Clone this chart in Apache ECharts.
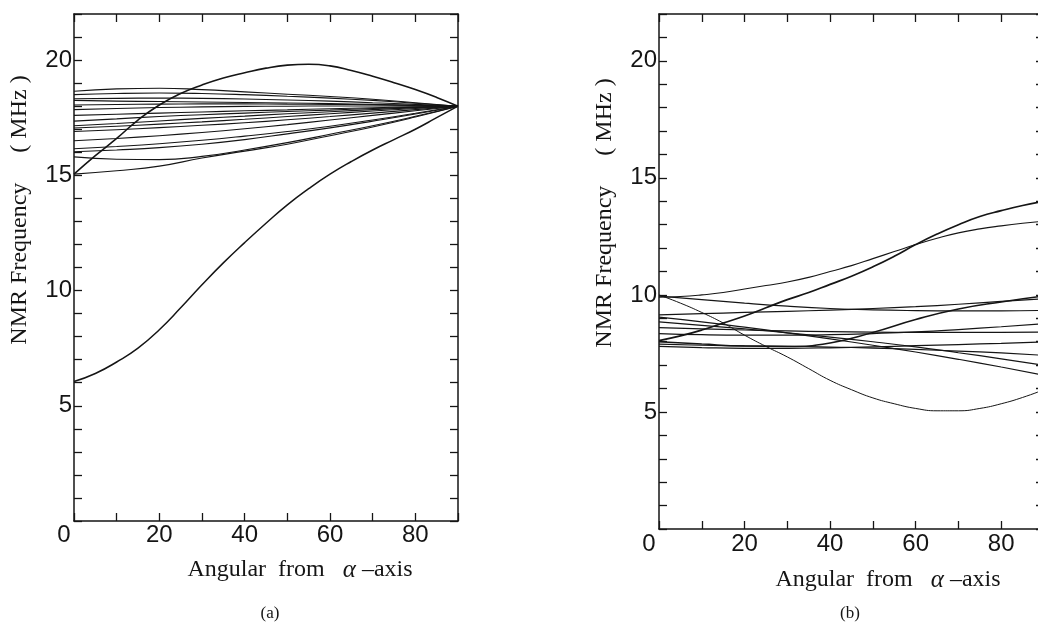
<!DOCTYPE html>
<html><head><meta charset="utf-8">
<script src="https://cdn.jsdelivr.net/npm/echarts@6/dist/echarts.min.js"></script>
<style>html,body{margin:0;padding:0;background:#fff}#c{width:1038px;height:624px}</style>
</head><body><div id="c"></div>
<script>
// x values (angle from alpha-axis, degrees)
const angles = [0, 10, 20, 30, 40, 50, 60, 70, 80, 90];
const anglesFine = [0, 5, 10, 15, 20, 25, 30, 35, 40, 45, 50, 55, 60, 65, 70, 75, 80, 85, 90];
const xTickLabels = [0, 20, 40, 60, 80];
const yTickLabels = [5, 10, 15, 20];

// ---- panel (a) ----  (aArc, aLow on anglesFine; others on angles)
const aArc = [15.05, 15.85, 16.6, 17.4, 18.05, 18.55, 18.92, 19.22, 19.45, 19.65, 19.78, 19.82, 19.75, 19.55, 19.3, 19.02, 18.72, 18.38, 18.0];
const aLow = [6.05, 6.4, 6.9, 7.5, 8.3, 9.25, 10.25, 11.2, 12.08, 12.92, 13.72, 14.42, 15.05, 15.6, 16.1, 16.55, 17.0, 17.5, 18.0];
const aF1  = [18.65, 18.75, 18.78, 18.72, 18.62, 18.52, 18.42, 18.3, 18.15, 18.0];
const aF2  = [18.5, 18.55, 18.57, 18.55, 18.5, 18.43, 18.35, 18.25, 18.13, 18.0];
const aF3  = [18.32, 18.34, 18.35, 18.34, 18.31, 18.27, 18.22, 18.15, 18.08, 18.0];
const aF4  = [18.25, 18.22, 18.2, 18.18, 18.16, 18.14, 18.11, 18.08, 18.04, 18.0];
const aF5  = [18.05, 18.07, 18.09, 18.1, 18.1, 18.09, 18.08, 18.06, 18.03, 18.0];
const aF6  = [17.85, 17.9, 17.94, 17.97, 17.99, 18.0, 18.01, 18.01, 18.01, 18.0];
const aF7  = [17.6, 17.65, 17.7, 17.75, 17.8, 17.84, 17.89, 17.93, 17.97, 18.0];
const aF8  = [17.35, 17.45, 17.55, 17.63, 17.7, 17.77, 17.83, 17.9, 17.95, 18.0];
const aF9  = [17.15, 17.25, 17.36, 17.47, 17.57, 17.67, 17.76, 17.85, 17.93, 18.0];
const aF10 = [17.05, 17.13, 17.22, 17.32, 17.43, 17.55, 17.67, 17.79, 17.9, 18.0];
const aF11 = [16.9, 16.98, 17.07, 17.17, 17.28, 17.41, 17.55, 17.7, 17.85, 18.0];
const aF12 = [16.5, 16.6, 16.72, 16.86, 17.02, 17.2, 17.4, 17.6, 17.8, 18.0];
const aF13 = [16.15, 16.25, 16.37, 16.52, 16.7, 16.9, 17.13, 17.4, 17.69, 18.0];
const aF14 = [16.02, 16.1, 16.2, 16.35, 16.55, 16.8, 17.06, 17.35, 17.66, 18.0];
const aF15 = [15.8, 15.7, 15.68, 15.82, 16.1, 16.42, 16.78, 17.15, 17.56, 18.0];
const aF16 = [15.05, 15.2, 15.4, 15.75, 16.05, 16.35, 16.72, 17.1, 17.53, 18.0];

// ---- panel (b) ----  (bRiseA, bRiseB, bDip on anglesFine; others on angles)
const bRiseA = [8.05, 8.25, 8.5, 8.8, 9.1, 9.45, 9.8, 10.1, 10.45, 10.8, 11.2, 11.65, 12.15, 12.6, 13.0, 13.35, 13.6, 13.82, 14.0];
const bRiseB = [9.9, 9.93, 10.0, 10.1, 10.25, 10.4, 10.55, 10.75, 11.0, 11.25, 11.55, 11.85, 12.15, 12.42, 12.65, 12.82, 12.95, 13.06, 13.15];
const bDip   = [10.0, 9.65, 9.25, 8.8, 8.28, 7.8, 7.35, 6.85, 6.35, 5.95, 5.6, 5.35, 5.15, 5.05, 5.05, 5.15, 5.35, 5.62, 5.95];
const bRiseD = [8.0, 7.9, 7.82, 7.8, 7.95, 8.4, 8.95, 9.4, 9.7, 9.95];
const bR1 = [9.95, 9.8, 9.65, 9.52, 9.42, 9.36, 9.33, 9.32, 9.32, 9.34];
const bR2 = [9.15, 9.2, 9.25, 9.3, 9.35, 9.42, 9.5, 9.6, 9.72, 9.84];
const bR3 = [9.05, 8.85, 8.62, 8.38, 8.12, 7.85, 7.56, 7.25, 6.92, 6.57];
const bR4 = [8.85, 8.7, 8.55, 8.38, 8.2, 8.0, 7.78, 7.53, 7.27, 6.99];
const bR5 = [8.6, 8.55, 8.5, 8.46, 8.43, 8.41, 8.4, 8.4, 8.4, 8.41];
const bR6 = [8.35, 8.3, 8.28, 8.28, 8.3, 8.35, 8.42, 8.52, 8.64, 8.77];
const bR7 = [7.9, 7.85, 7.82, 7.8, 7.77, 7.73, 7.67, 7.6, 7.52, 7.42];
const bR8 = [7.8, 7.75, 7.72, 7.72, 7.74, 7.78, 7.83, 7.88, 7.93, 7.99];

const panelA = [[aArc, 1.6], [aLow, 1.5], [aF1, 1.1], [aF2, 1.1], [aF3, 1.1], [aF4, 1.1], [aF5, 1.1], [aF6, 1.1], [aF7, 1.1], [aF8, 1.1], [aF9, 1.1], [aF10, 1.1], [aF11, 1.1], [aF12, 1.1], [aF13, 1.1], [aF14, 1.1], [aF15, 1.1], [aF16, 1.1]];
const panelB = [[bRiseA, 1.7], [bRiseB, 1.1], [bDip, 1.0], [bRiseD, 1.5], [bR1, 1.2], [bR2, 1.2], [bR3, 1.2], [bR4, 1.2], [bR5, 1.2], [bR6, 1.2], [bR7, 1.2], [bR8, 1.2]];

const INK = '#151515';
const SANS = "'Liberation Sans', Arial, sans-serif";
const SERIF = "'Liberation Serif', 'Times New Roman', serif";

function xAxisPair(grid, labelMargin) {
  const common = {
    type: 'value', gridIndex: grid, min: 0, max: 90, interval: 10,
    axisLine: { show: true, onZero: false, lineStyle: { color: INK, width: 1.5 } },
    axisTick: { show: true, inside: true, length: 8, lineStyle: { color: INK, width: 1.3 } },
    splitLine: { show: false }
  };
  return [
    Object.assign({}, common, {
      position: 'bottom',
      axisLabel: {
        show: true, margin: labelMargin, color: INK, fontSize: 24, fontFamily: SANS,
        formatter: v => v === 0 ? '{z|0}' : (xTickLabels.indexOf(v) >= 0 ? String(v) : ''),
        rich: { z: { fontSize: 24, fontFamily: SANS, color: INK, padding: [0, 20, 0, 0] } }
      }
    }),
    Object.assign({}, common, { position: 'top', axisLabel: { show: false } })
  ];
}
function yAxisPair(grid) {
  const common = {
    type: 'value', gridIndex: grid, min: 0, max: 22, interval: 1,
    axisLine: { show: true, onZero: false, lineStyle: { color: INK, width: 1.5 } },
    axisTick: { show: true, inside: true, length: 8, lineStyle: { color: INK, width: 1.3 } },
    splitLine: { show: false }
  };
  return [
    Object.assign({}, common, {
      position: 'left',
      axisLabel: {
        show: true, margin: 2, color: INK, fontSize: 24, fontFamily: SANS,
        formatter: v => yTickLabels.indexOf(v) >= 0 ? String(v) : ''
      }
    }),
    Object.assign({}, common, { position: 'right', axisLabel: { show: false } })
  ];
}

function xsFor(arr) { return arr.length === anglesFine.length ? anglesFine : angles; }

const series = [];
panelA.forEach(([arr, w]) => series.push({
  type: 'line', xAxisIndex: 0, yAxisIndex: 0, smooth: 0.5, showSymbol: false, silent: true,
  data: xsFor(arr).map((a, i) => [a, arr[i]]), lineStyle: { color: INK, width: w }
}));
panelB.forEach(([arr, w]) => series.push({
  type: 'line', xAxisIndex: 2, yAxisIndex: 2, smooth: 0.5, showSymbol: false, silent: true,
  data: xsFor(arr).map((a, i) => [a, arr[i]]), lineStyle: { color: INK, width: w }
}));

function xName(cx, cy) {
  return {
    type: 'text', x: cx, y: cy, silent: true,
    style: {
      text: '{t|Angular  from   }{g|α}{t| –axis}',
      align: 'center', verticalAlign: 'middle',
      rich: {
        t: { fontFamily: SERIF, fontSize: 24, fill: INK },
        g: { fontFamily: SERIF, fontSize: 25, fontStyle: 'italic', fill: INK }
      }
    }
  };
}
function yName(cx, cy) {
  return {
    type: 'text', x: cx, y: cy, rotation: Math.PI / 2, silent: true,
    style: {
      text: 'NMR Frequency     ( MHz )', font: '24px ' + SERIF, fill: INK,
      align: 'center', verticalAlign: 'middle'
    }
  };
}
function caption(txt, cx, cy) {
  return {
    type: 'text', x: cx, y: cy, silent: true,
    style: { text: txt, font: '17px ' + SERIF, fill: INK, align: 'center', verticalAlign: 'middle' }
  };
}

const chart = echarts.init(document.getElementById('c'), null, { renderer: 'canvas' });
chart.setOption({
  animation: false,
  backgroundColor: '#fff',
  grid: [
    { left: 74, top: 14, width: 384, height: 507, containLabel: false, outerBoundsMode: 'none' },
    { left: 659, top: 14, width: 385, height: 515, containLabel: false, outerBoundsMode: 'none' }
  ],
  xAxis: [].concat(xAxisPair(0, 2), xAxisPair(1, 3)),
  yAxis: [].concat(yAxisPair(0), yAxisPair(1)),
  series: series,
  graphic: [
    yName(20, 210), yName(605, 213),
    xName(300, 570), xName(888, 580),
    caption('(a)', 270, 614), caption('(b)', 850, 614)
  ]
});
</script></body></html>
